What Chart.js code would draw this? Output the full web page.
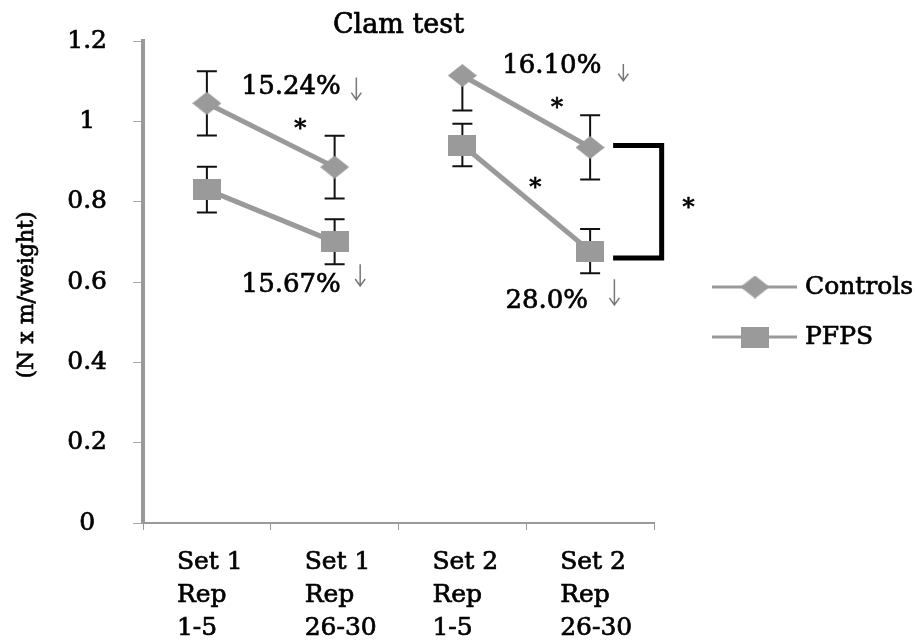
<!DOCTYPE html>
<html>
<head>
<meta charset="utf-8">
<title>Clam test</title>
<script src="https://cdn.jsdelivr.net/npm/chart.js@4.4.1/dist/chart.umd.min.js"></script>
<style>
    html, body { margin: 0; padding: 0; background: #fff; }
    #wrap { width: 915px; height: 641px; }
</style>
</head>
<body>
<div id="wrap"><canvas id="clamChart" width="915" height="641"></canvas></div>
<script>
// categories and values
var labels = [['Set 1', 'Rep', '1-5'], ['Set 1', 'Rep', '26-30'], ['Set 2', 'Rep', '1-5'], ['Set 2', 'Rep', '26-30']];
var controls = [1.045, 0.886, 1.114, 0.935];
var controlsErr = [0.080, 0.078, 0.087, 0.080];
var pfps = [0.830, 0.700, 0.941, 0.677];
var pfpsErr = [0.057, 0.056, 0.053, 0.055];
var yTicks = [0, 0.2, 0.4, 0.6, 0.8, 1, 1.2];

// percent drops and significance marks, placed in axis units (x = category index)
var notes = [
    { text: '15.24%', x: 0.66, y: 1.086 },
    { text: '15.67%', x: 0.66, y: 0.593 },
    { text: '16.10%', x: 2.70, y: 1.136 },
    { text: '28.0%', x: 2.66, y: 0.551 }
];
var stars = [
    { x: 0.73, y: 1.0 },
    { x: 2.74, y: 1.052 },
    { x: 2.57, y: 0.854 },
    { x: 3.77, y: 0.805 }
];
var arrows = [
    { x: 1.17, top: 1.109, bottom: 1.054 },
    { x: 1.20, top: 0.644, bottom: 0.590 },
    { x: 3.26, top: 1.143, bottom: 1.101 },
    { x: 3.19, top: 0.607, bottom: 0.543 }
];
var bracket = { x1: 3.18, x2: 3.56, top: 0.94, bottom: 0.66 };

(function () {
    "use strict";

    var GREY = '#9a9a9a';
    var SERIF = '"DejaVu Serif", serif';

    // markers: a wide diamond for controls, a wide block for PFPS
    function makeDiamond(w, h) {
        var c = document.createElement('canvas');
        c.width = w; c.height = h;
        var g = c.getContext('2d');
        g.fillStyle = GREY;
        g.beginPath();
        g.moveTo(w / 2, 0); g.lineTo(w, h / 2); g.lineTo(w / 2, h); g.lineTo(0, h / 2);
        g.closePath();
        g.fill();
        return c;
    }
    function makeBlock(w, h) {
        var c = document.createElement('canvas');
        c.width = w; c.height = h;
        var g = c.getContext('2d');
        g.fillStyle = GREY;
        g.fillRect(0, 0, w, h);
        return c;
    }
    var diamond = makeDiamond(29, 23);
    var block = makeBlock(28, 21);

    // no line between set 1 and set 2
    function gapColor(c) {
        return c.p0DataIndex === 1 ? 'rgba(0,0,0,0)' : GREY;
    }

    // text with a thin outline so it reads as heavy as the axis labels
    function heavyText(ctx, t, x, y) {
        ctx.fillText(t, x, y);
        ctx.strokeText(t, x, y);
    }

    var errorBars = {
        id: 'errorBars',
        beforeDatasetsDraw: function (chart) {
            var ctx = chart.ctx, xs = chart.scales.x, ys = chart.scales.y;
            var sets = [[controls, controlsErr], [pfps, pfpsErr]];
            ctx.save();
            ctx.strokeStyle = '#111';
            ctx.lineWidth = 2;
            sets.forEach(function (s) {
                s[0].forEach(function (v, i) {
                    var px = xs.getPixelForValue(i);
                    var mid = ys.getPixelForValue(v);
                    var lo = ys.getPixelForValue(v - s[1][i]);
                    ctx.beginPath();
                    ctx.moveTo(px, mid); ctx.lineTo(px, lo);
                    ctx.moveTo(px - 10, lo); ctx.lineTo(px + 10, lo);
                    // upper whisker is left off when it runs past the axis
                    if (v + s[1][i] <= ys.max) {
                        var hi = ys.getPixelForValue(v + s[1][i]);
                        ctx.moveTo(px, mid); ctx.lineTo(px, hi);
                        ctx.moveTo(px - 10, hi); ctx.lineTo(px + 10, hi);
                    }
                    ctx.stroke();
                });
            });
            ctx.restore();
        }
    };

    var extras = {
        id: 'extras',
        afterDraw: function (chart) {
            var ctx = chart.ctx, xs = chart.scales.x, ys = chart.scales.y, area = chart.chartArea;
            ctx.save();
            ctx.fillStyle = '#000';
            ctx.strokeStyle = '#000';
            ctx.lineWidth = 0.7;

            // title
            ctx.font = '27px ' + SERIF;
            ctx.textAlign = 'center';
            ctx.textBaseline = 'middle';
            heavyText(ctx, 'Clam test', (area.left + area.right) / 2, 26);

            // y axis title
            ctx.save();
            ctx.translate(27, 295);
            ctx.rotate(-Math.PI / 2);
            ctx.font = '22px ' + SERIF;
            heavyText(ctx, '(N x m/weight)', 0, 0);
            ctx.restore();

            // category labels, left aligned in three lines
            ctx.font = '25px ' + SERIF;
            ctx.textAlign = 'left';
            labels.forEach(function (lines, i) {
                var px = xs.getPixelForValue(i) - 30;
                lines.forEach(function (t, j) {
                    heavyText(ctx, t, px, area.bottom + 39 + j * 33);
                });
            });

            // percent notes
            ctx.font = '26px ' + SERIF;
            ctx.textAlign = 'center';
            notes.forEach(function (n) {
                heavyText(ctx, n.text, xs.getPixelForValue(n.x), ys.getPixelForValue(n.y));
            });

            // stars
            ctx.font = '24px ' + SERIF;
            ctx.textBaseline = 'alphabetic';
            stars.forEach(function (s) {
                heavyText(ctx, '*', xs.getPixelForValue(s.x), ys.getPixelForValue(s.y) + 15);
            });

            // down arrows
            ctx.strokeStyle = '#777';
            ctx.lineWidth = 1.5;
            arrows.forEach(function (a) {
                var px = xs.getPixelForValue(a.x);
                var t = ys.getPixelForValue(a.top), b = ys.getPixelForValue(a.bottom);
                ctx.beginPath();
                ctx.moveTo(px, t); ctx.lineTo(px, b);
                ctx.moveTo(px - 5, b - 7); ctx.lineTo(px, b); ctx.lineTo(px + 5, b - 7);
                ctx.stroke();
            });

            // bracket between groups at set 2 rep 26-30
            var bx1 = xs.getPixelForValue(bracket.x1), bx2 = xs.getPixelForValue(bracket.x2);
            var bt = ys.getPixelForValue(bracket.top), bb = ys.getPixelForValue(bracket.bottom);
            ctx.strokeStyle = '#000';
            ctx.lineWidth = 5;
            ctx.beginPath();
            ctx.moveTo(bx1, bt); ctx.lineTo(bx2, bt); ctx.lineTo(bx2, bb); ctx.lineTo(bx1, bb);
            ctx.stroke();

            // legend
            var legend = [['Controls', diamond, 287], ['PFPS', block, 337]];
            ctx.font = '25px ' + SERIF;
            ctx.textAlign = 'left';
            ctx.textBaseline = 'middle';
            legend.forEach(function (l) {
                ctx.strokeStyle = GREY;
                ctx.lineWidth = 3;
                ctx.beginPath();
                ctx.moveTo(712, l[2]); ctx.lineTo(797, l[2]);
                ctx.stroke();
                ctx.drawImage(l[1], 755 - l[1].width / 2, l[2] - l[1].height / 2);
                ctx.strokeStyle = '#000';
                ctx.lineWidth = 0.7;
                heavyText(ctx, l[0], 805, l[2]);
            });
            ctx.restore();
        }
    };

    var ctx = document.getElementById('clamChart');
    var myChart = new Chart(ctx, {
        type: 'line',
        data: {
            labels: labels,
            datasets: [{
                label: 'Controls',
                data: controls,
                borderColor: GREY,
                borderWidth: 5,
                pointStyle: diamond,
                pointRadius: 11,
                tension: 0,
                segment: { borderColor: gapColor }
            }, {
                label: 'PFPS',
                data: pfps,
                borderColor: GREY,
                borderWidth: 5,
                pointStyle: block,
                pointRadius: 11,
                tension: 0,
                segment: { borderColor: gapColor }
            }]
        },
        options: {
            responsive: false,
            animation: false,
            layout: { padding: { top: 37, right: 261, left: 0, bottom: 0 } },
            plugins: {
                legend: { display: false },
                title: { display: false },
                tooltip: { enabled: false }
            },
            scales: {
                x: {
                    offset: true,
                    grid: { offset: true, drawOnChartArea: false, tickLength: 7, color: '#999' },
                    border: { color: '#999', width: 2 },
                    ticks: { display: false },
                    afterFit: function (s) { s.height = 118; }
                },
                y: {
                    min: 0,
                    max: 1.2,
                    afterBuildTicks: function (s) {
                        s.ticks = yTicks.map(function (v) { return { value: v }; });
                    },
                    grid: { drawOnChartArea: false, tickLength: 10, color: '#aaa' },
                    border: { color: '#999', width: 4 },
                    ticks: {
                        crossAlign: 'center',
                        padding: 26,
                        color: '#000',
                        textStrokeColor: '#000',
                        textStrokeWidth: 0.7,
                        font: { family: 'DejaVu Serif', size: 25 },
                        callback: function (v) { return String(v); }
                    },
                    afterFit: function (s) { s.width = 143; }
                }
            }
        },
        plugins: [errorBars, extras]
    });
})();
</script>
</body>
</html>
